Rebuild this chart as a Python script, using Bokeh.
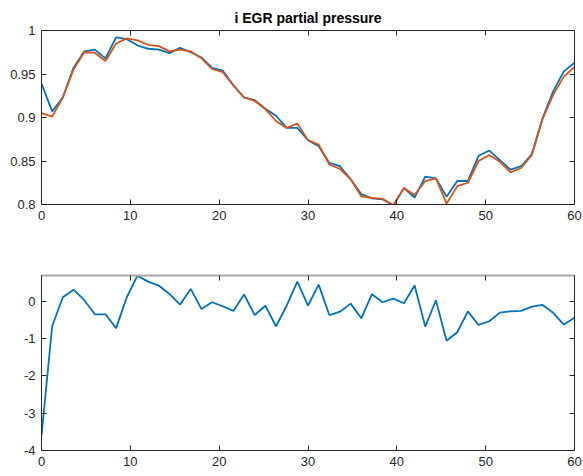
from bokeh.plotting import figure
from bokeh.layouts import column
from bokeh.models import Range1d, LinearAxis, FixedTicker
from bokeh.embed import file_html
from bokeh.resources import INLINE

t = [0, 1.2, 2.4, 3.6, 4.8, 6, 7.2, 8.4, 9.6, 10.8, 12, 13.2, 14.4, 15.6, 16.8, 18,
     19.2, 20.4, 21.6, 22.8, 24, 25.2, 26.4, 27.6, 28.8, 30, 31.2, 32.4, 33.6, 34.8,
     36, 37.2, 38.4, 39.6, 40.8, 42, 43.2, 44.4, 45.6, 46.8, 48, 49.2, 50.4, 51.6,
     52.8, 54, 55.2, 56.4, 57.6, 58.8, 60]

series_a = [0.939, 0.907, 0.923, 0.957, 0.976, 0.978, 0.968, 0.992, 0.990, 0.983,
            0.979, 0.978, 0.974, 0.980, 0.975, 0.969, 0.957, 0.954, 0.937, 0.923,
            0.920, 0.910, 0.902, 0.888, 0.888, 0.874, 0.867, 0.848, 0.844, 0.829,
            0.812, 0.807, 0.806, 0.799, 0.819, 0.808, 0.832, 0.830, 0.809, 0.827,
            0.827, 0.856, 0.862, 0.851, 0.840, 0.844, 0.858, 0.899, 0.930, 0.953, 0.963]

series_b = [0.905, 0.901, 0.923, 0.955, 0.975, 0.9745, 0.965, 0.985, 0.991, 0.9886,
            0.9836, 0.982, 0.976, 0.978, 0.976, 0.968, 0.956, 0.952, 0.937, 0.923,
            0.919, 0.9097, 0.896, 0.888, 0.893, 0.874, 0.869, 0.846, 0.841, 0.829,
            0.8095, 0.8077, 0.8065, 0.799, 0.819, 0.811, 0.827, 0.830, 0.801, 0.821,
            0.825, 0.850, 0.857, 0.849, 0.837, 0.842, 0.857, 0.898, 0.926, 0.947, 0.958]

err = [-3.61, -0.67, 0.107, 0.31, 0.035, -0.35, -0.35, -0.72, 0.107, 0.686,
       0.525, 0.42, 0.196, -0.09, 0.33, -0.206, -0.027, -0.134, -0.26, 0.18,
       -0.37, -0.12, -0.67, -0.12, 0.525, -0.12, 0.445, -0.37, -0.28, -0.064,
       -0.456, 0.188, -0.027, 0.07, -0.054, 0.42, -0.68, 0.027, -1.06, -0.83,
       -0.27, -0.635, -0.536, -0.305, -0.27, -0.26, -0.145, -0.10, -0.31, -0.626, -0.44]

x_ticks = [0, 10, 20, 30, 40, 50, 60]
top_y_ticks = [0.8, 0.85, 0.9, 0.95, 1.0]
top_y_labels = ["0.8", "0.85", "0.9", "0.95", "1"]
bot_y_ticks = [-4, -3, -2, -1, 0]
bot_y_labels = ["-4", "-3", "-2", "-1", "0"]

TITLE = "i EGR partial pressure"
BLUE = "#0072BD"
ORANGE = "#D95319"
AX = "#262626"
FONT = "Liberation Sans"


def style_axes(p, yticks, ylabels, top_color=AX):
    for ax in p.xaxis:
        ax.ticker = FixedTicker(ticks=x_ticks)
    for ax in p.yaxis:
        ax.ticker = FixedTicker(ticks=yticks)
        ax.major_label_overrides = {v: l for v, l in zip(yticks, ylabels)}
    # top and right axes: box edges with inward ticks, no labels
    top = LinearAxis(ticker=FixedTicker(ticks=x_ticks), major_label_text_color=None,
                     major_label_text_font_size="8px", major_label_standoff=0)
    right = LinearAxis(ticker=FixedTicker(ticks=yticks), major_label_text_color=None,
                       major_label_text_font_size="8px", major_label_standoff=0)
    for ax in p.axis:
        ax.major_label_text_font = FONT
        ax.major_label_text_font_size = "13px"
        ax.major_label_text_color = AX
        ax.major_label_standoff = 6
    p.add_layout(top, "above")
    p.add_layout(right, "right")
    for ax in p.axis:
        ax.axis_line_color = AX
        ax.axis_line_width = 1
        ax.major_tick_in = 5
        ax.major_tick_out = 0
        ax.major_tick_line_color = AX
        ax.minor_tick_line_color = None
    top.axis_line_color = top_color
    if top_color != AX:
        top.axis_line_width = 2
    p.xgrid.visible = False
    p.ygrid.visible = False
    p.outline_line_color = None
    p.background_fill_color = "white"
    p.border_fill_color = "white"


p1 = figure(width=583, height=240, output_backend="svg", toolbar_location=None,
            x_range=Range1d(0, 60), y_range=Range1d(0.8, 1.0),
            min_border_left=41, min_border_right=9, min_border_top=30, min_border_bottom=36)
p1.title.text = TITLE
p1.title.align = "center"
p1.title.text_font = FONT
p1.title.text_font_style = "bold"
p1.title.text_font_size = "14px"
p1.title.text_color = "#000000"
p1.line(t, series_a, line_color=BLUE, line_width=1.8)
p1.line(t, series_b, line_color=ORANGE, line_width=1.8)
style_axes(p1, top_y_ticks, top_y_labels)

p2 = figure(width=583, height=236, output_backend="svg", toolbar_location=None,
            x_range=Range1d(0, 60), y_range=Range1d(-4, 0.69),
            min_border_left=41, min_border_right=9, min_border_top=35, min_border_bottom=26)
p2.line(t, err, line_color=BLUE, line_width=1.8)
style_axes(p2, bot_y_ticks, bot_y_labels, top_color="#A6A6A6")

layout = column(p1, p2, spacing=0)
open("out.html", "w").write(file_html(layout, INLINE))
